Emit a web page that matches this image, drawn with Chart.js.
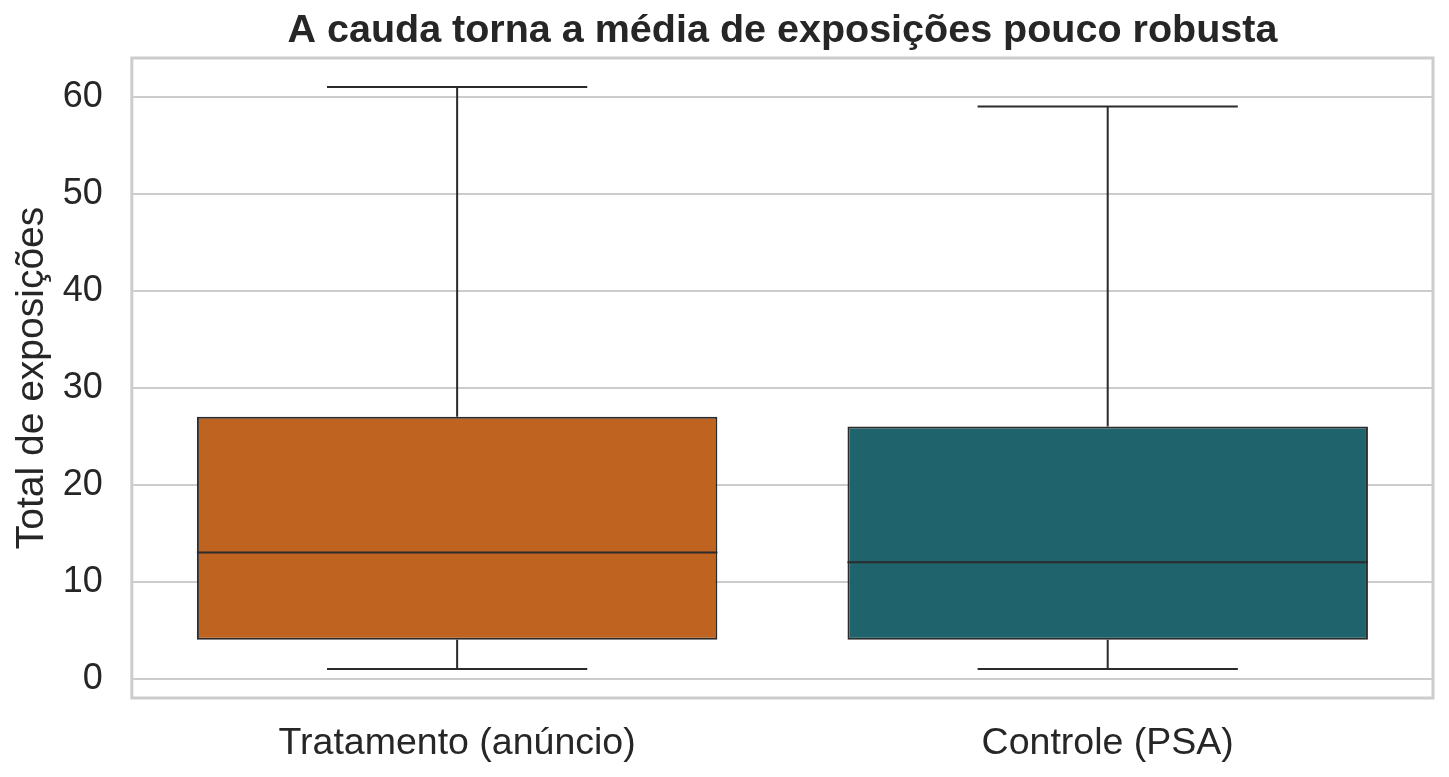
<!DOCTYPE html>
<html>
<head>
<meta charset="utf-8">
<script src="https://cdn.jsdelivr.net/npm/chart.js@4"></script>
<style>
html,body{margin:0;padding:0;background:#fff;}
#wrap{width:1449px;height:777px;position:relative;}
</style>
</head>
<body>
<div id="wrap"><canvas id="c" width="1449" height="777"></canvas></div>
<script>
const categories = ["Tratamento (anúncio)", "Controle (PSA)"];
const whiskerLow = [1, 1];
const q1 = [4, 4];
const median = [13, 12];
const q3 = [27, 26];
const whiskerHigh = [61, 59];
const boxColors = ["#BE6320", "#1F636D"];
const yTicks = [0, 10, 20, 30, 40, 50, 60];
const titleText = "A cauda torna a média de exposições pouco robusta";
const yLabel = "Total de exposições";

const FONT = "'Liberation Sans', Arial, sans-serif";
const LINE = "#2b2b2b";

const boxPlugin = {
  id: 'boxParts',
  beforeDraw(chart) {
    const ctx = chart.ctx;
    ctx.save();
    ctx.fillStyle = '#fff';
    ctx.fillRect(0, 0, chart.width, chart.height);
    ctx.restore();
  },
  afterDatasetsDraw(chart) {
    const ctx = chart.ctx, xs = chart.scales.x, ys = chart.scales.y;
    const meta = chart.getDatasetMeta(0);
    ctx.save();
    ctx.strokeStyle = LINE;
    ctx.lineWidth = 2;
    categories.forEach((c, i) => {
      const cx = xs.getPixelForValue(i);
      const bar = meta.data[i];
      const half = bar.width / 2;
      const capHalf = half / 2;
      const yLo = ys.getPixelForValue(whiskerLow[i]);
      const yQ1 = ys.getPixelForValue(q1[i]);
      const yQ3 = ys.getPixelForValue(q3[i]);
      const yHi = ys.getPixelForValue(whiskerHigh[i]);
      const yMed = ys.getPixelForValue(median[i]);
      ctx.beginPath();
      ctx.moveTo(cx, yQ1); ctx.lineTo(cx, yLo);
      ctx.moveTo(cx - capHalf, yLo); ctx.lineTo(cx + capHalf, yLo);
      ctx.moveTo(cx, yQ3); ctx.lineTo(cx, yHi);
      ctx.moveTo(cx - capHalf, yHi); ctx.lineTo(cx + capHalf, yHi);
      ctx.moveTo(cx - half, yMed); ctx.lineTo(cx + half, yMed);
      ctx.stroke();
    });
    ctx.restore();
  },
  afterDraw(chart) {
    const a = chart.chartArea, ctx = chart.ctx;
    ctx.save();
    ctx.strokeStyle = '#cccccc';
    ctx.lineWidth = 3;
    ctx.strokeRect(a.left, a.top, a.right - a.left, a.bottom - a.top);
    ctx.fillStyle = '#262626';
    ctx.font = "bold 39.5px " + FONT;
    ctx.textAlign = 'center';
    ctx.textBaseline = 'alphabetic';
    ctx.fillText(titleText, (a.left + a.right) / 2, 42);
    ctx.restore();
  }
};

new Chart(document.getElementById('c'), {
  type: 'bar',
  data: {
    labels: categories,
    datasets: [{
      data: categories.map((c, i) => [q1[i], q3[i]]),
      backgroundColor: boxColors,
      borderColor: LINE,
      borderWidth: 2,
      borderSkipped: false,
      barPercentage: 0.8,
      categoryPercentage: 1.0
    }]
  },
  options: {
    responsive: false,
    animation: false,
    devicePixelRatio: 1,
    layout: { padding: { top: 58, right: 16, bottom: -12, left: 9 } },
    plugins: { legend: { display: false }, tooltip: { enabled: false }, title: { display: false } },
    scales: {
      x: {
        grid: { display: false, drawTicks: false },
        border: { display: false },
        ticks: { color: '#262626', font: { family: FONT, size: 37.5 }, padding: 23 }
      },
      y: {
        min: -2, max: 64,
        afterBuildTicks(s) { s.ticks = yTicks.map(v => ({ value: v })); },
        grid: { color: '#cccccc', lineWidth: 2, drawTicks: false },
        border: { display: false },
        ticks: { color: '#262626', font: { family: FONT, size: 36 }, padding: 29 },
        title: { display: true, text: yLabel, color: '#262626', font: { family: FONT, size: 39 }, padding: { top: 0, bottom: -22 } }
      }
    }
  },
  plugins: [boxPlugin]
});
</script>
</body>
</html>
